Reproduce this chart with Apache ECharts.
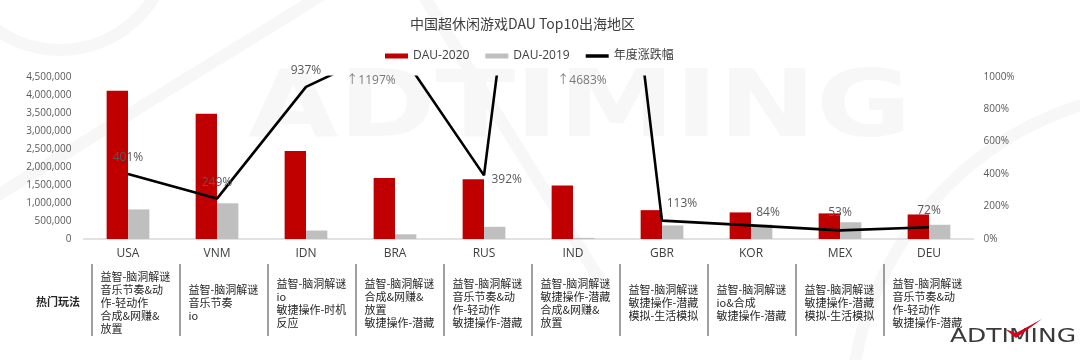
<!DOCTYPE html>
<html><head><meta charset="utf-8">
<script src="https://cdn.jsdelivr.net/npm/echarts@6/dist/echarts.min.js"></script>
<style>html,body{margin:0;padding:0;background:#fff}#c{width:1080px;height:360px}</style>
</head><body><div id="c"></div>
<script>
// ---------- data ----------
const titleText = '中国超休闲游戏DAU Top10出海地区';
const categories = ['USA', 'VNM', 'IDN', 'BRA', 'RUS', 'IND', 'GBR', 'KOR', 'MEX', 'DEU'];
const dau2020 = [4110000, 3470000, 2440000, 1690000, 1660000, 1480000, 800000, 737000, 710000, 680000];
const dau2019 = [820000, 990000, 235000, 130000, 338000, 31000, 376000, 401000, 464000, 395000];
const growthPct = [401, 249, 937, 1197, 392, 4683, 113, 84, 53, 72];
const seriesNames = ['DAU-2020', 'DAU-2019', '年度涨跌幅'];
const leftAxis = { min: 0, max: 4500000, interval: 500000 };
const rightAxis = { min: 0, max: 1000, interval: 200 };
const tableHeader = '热门玩法';
const playStyles = [
  ['益智-脑洞解谜', '音乐节奏&动', '作-轻动作', '合成&网赚&', '放置'],
  ['益智-脑洞解谜', '音乐节奏', 'io'],
  ['益智-脑洞解谜', 'io', '敏捷操作-时机', '反应'],
  ['益智-脑洞解谜', '合成&网赚&', '放置', '敏捷操作-潜藏'],
  ['益智-脑洞解谜', '音乐节奏&动', '作-轻动作', '敏捷操作-潜藏'],
  ['益智-脑洞解谜', '敏捷操作-潜藏', '合成&网赚&', '放置'],
  ['益智-脑洞解谜', '敏捷操作-潜藏', '模拟-生活模拟'],
  ['益智-脑洞解谜', 'io&合成', '敏捷操作-潜藏'],
  ['益智-脑洞解谜', '敏捷操作-潜藏', '模拟-生活模拟'],
  ['益智-脑洞解谜', '音乐节奏&动', '作-轻动作', '敏捷操作-潜藏']
];
const logoText = 'ADTIMING';

// ---------- styles ----------
const RED = '#c00000', GRAY = '#bfbfbf';
const LATIN = "'Open Sans', 'Noto Sans CJK SC', sans-serif";
const CJK = "'Noto Sans CJK SC', sans-serif";
const labelStyles = [
  { position: 'top', distance: 10 },
  { position: 'top', distance: 10 },
  { position: 'top', distance: 10 },
  { show: false },
  { position: 'right', distance: 7, offset: [0, 4] },
  { show: false },
  { position: 'top', distance: 11, offset: [20, 0] },
  { position: 'top', distance: 6, offset: [17, 0] },
  { position: 'top', distance: 11 },
  { position: 'top', distance: 10 }
];
const overflowOffsets = { 3: [-24, 4], 5: [9, 4] };

const chart = echarts.init(document.getElementById('c'), null, { renderer: 'canvas' });

const lineData = growthPct.map((v, i) => ({ value: v, label: labelStyles[i] }));
const overflowData = [];
growthPct.forEach((v, i) => {
  if (v > rightAxis.max) {
    overflowData.push({
      value: [categories[i], rightAxis.max],
      label: { show: true, formatter: '↑' + v + '%', position: 'inside', offset: overflowOffsets[i] || [0, 4] }
    });
  }
});

chart.setOption({
  backgroundColor: '#fff',
  animation: false,
  title: {
    text: titleText, left: 405, top: 12,
    textStyle: { fontFamily: CJK, fontSize: 14, fontWeight: 'normal', color: '#404040' }
  },
  legend: {
    left: 380, top: 45, itemWidth: 23, itemHeight: 5, itemGap: 16,
    textStyle: { fontFamily: LATIN, fontSize: 12, color: '#404040' },
    data: [
      { name: seriesNames[0], icon: 'rect' },
      { name: seriesNames[1], icon: 'rect' },
      { name: seriesNames[2], icon: 'path://M0,0 H23 V3.5 H0 Z', itemStyle: { color: '#000', opacity: 1 } }
    ]
  },
  grid: { left: 83.5, right: 106.5, top: 76.7, bottom: 121 },
  xAxis: {
    type: 'category', data: categories,
    axisLine: { lineStyle: { color: '#d9d9d9', width: 1.5 } },
    axisTick: { show: false },
    axisLabel: { fontFamily: LATIN, fontSize: 12, color: '#404040', margin: 9 }
  },
  yAxis: [
    {
      type: 'value', min: leftAxis.min, max: leftAxis.max, interval: leftAxis.interval,
      splitLine: { show: false }, axisLine: { show: false }, axisTick: { show: false },
      axisLabel: { fontFamily: LATIN, fontSize: 10, color: '#595959', margin: 12,
        formatter: v => v.toLocaleString('en-US') }
    },
    {
      type: 'value', min: rightAxis.min, max: rightAxis.max, interval: rightAxis.interval,
      splitLine: { show: false }, axisLine: { show: false }, axisTick: { show: false },
      axisLabel: { fontFamily: LATIN, fontSize: 10, color: '#595959', margin: 10, formatter: v => v + '%' }
    }
  ],
  series: [
    { name: seriesNames[0], type: 'bar', data: dau2020, barWidth: '24%', barGap: '0%',
      itemStyle: { color: RED }, z: 2 },
    { name: seriesNames[1], type: 'bar', data: dau2019, barWidth: '24%', barGap: '0%',
      itemStyle: { color: GRAY }, z: 2 },
    { name: seriesNames[2], type: 'line', yAxisIndex: 1, data: lineData, clip: true,
      symbol: 'circle', symbolSize: 1, showSymbol: true,
      lineStyle: { color: '#000', width: 2.6 }, itemStyle: { color: 'rgba(0,0,0,0)' },
      label: { show: true, formatter: '{c}%', fontFamily: LATIN, fontSize: 12, color: '#595959' }, z: 5 },
    { name: 'overflow', type: 'scatter', yAxisIndex: 1, data: overflowData, symbolSize: 1,
      itemStyle: { color: 'rgba(0,0,0,0)' }, clip: false,
      label: { fontFamily: LATIN, fontSize: 12, color: '#595959' }, z: 6 }
  ]
});

// ---------- table, watermark, logo ----------
const g = [];
// faint watermark
g.push({ type: 'text', z: -10, silent: true, x: 248, y: 158, scaleX: 1.27, scaleY: 1,
  style: { text: logoText, font: 'bold 92px "DejaVu Sans"', fill: '#f7f7f7', verticalAlign: 'bottom' } });
g.push({ type: 'polyline', z: -10, silent: true, shape: { points: [[-10, 200], [330, -10]] },
  style: { stroke: '#f7f7f7', lineWidth: 12, fill: null } });
g.push({ type: 'polyline', z: -10, silent: true, shape: { points: [[420, -10], [600, 280]] },
  style: { stroke: '#f7f7f7', lineWidth: 12, fill: null } });
g.push({ type: 'arc', z: -10, silent: true, shape: { cx: 1180, cy: 420, r: 330, startAngle: Math.PI, endAngle: Math.PI * 1.5 },
  style: { stroke: '#f7f7f7', lineWidth: 12, fill: null } });
g.push({ type: 'arc', z: -10, silent: true, shape: { cx: 60, cy: -60, r: 110, startAngle: 0, endAngle: Math.PI },
  style: { stroke: '#f7f7f7', lineWidth: 12, fill: null } });

g.push({ type: 'text', x: 36, y: 302,
  style: { text: tableHeader, font: 'bold 11px "Noto Sans CJK SC"', fill: '#262626', verticalAlign: 'middle' } });
categories.forEach((c, i) => {
  const cx = chart.convertToPixel({ xAxisIndex: 0 }, c);
  const sx = cx - 36 - i;
  g.push({ type: 'line', shape: { x1: sx, y1: 264, x2: sx, y2: 336 },
    style: { stroke: '#7f7f7f', lineWidth: 1.5 } });
  g.push({ type: 'text', x: sx + 8.5, y: 303,
    style: { text: playStyles[i].join('\n'), font: '11px "Noto Sans CJK SC"', lineHeight: 13,
      fill: '#262626', verticalAlign: 'middle', align: 'left' } });
});
// logo
g.push({ type: 'text', x: 950, y: 337, scaleX: 1.25,
  style: { text: logoText, font: '20px "DejaVu Sans"', fill: '#3a3a3a', verticalAlign: 'middle' } });
g.push({ type: 'polygon', shape: { points: [[1005, 329], [1016, 338], [1042, 319], [1016, 333]] },
  style: { fill: '#d9001b' } });
chart.setOption({ graphic: g });
</script></body></html>
